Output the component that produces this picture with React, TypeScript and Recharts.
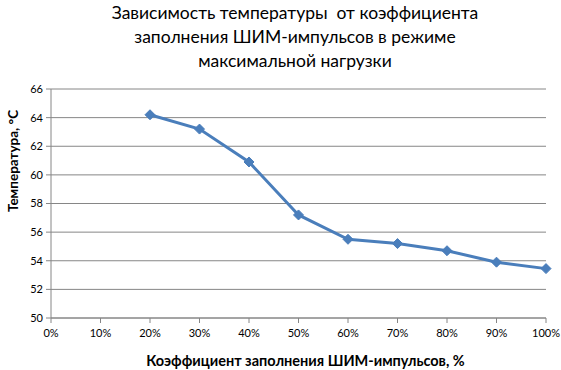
import { LineChart, Line, XAxis, YAxis, CartesianGrid } from "recharts";

const dutyCycle = [20, 30, 40, 50, 60, 70, 80, 90, 100];
const temperature = [64.2, 63.2, 60.9, 57.2, 55.5, 55.2, 54.7, 53.9, 53.45];
const xTicks = [0, 10, 20, 30, 40, 50, 60, 70, 80, 90, 100];
const yTicks = [50, 52, 54, 56, 58, 60, 62, 64, 66];

const data = dutyCycle.map((d, i) => ({ duty: d, temp: temperature[i] }));

const FONT = "Lato, 'Open Sans', sans-serif";
const BLUE = "#4a7ebb";

const Diamond = (props: any) => {
  const { cx, cy } = props;
  if (cx == null || cy == null) return null;
  const r = 5;
  return (
    <path
      d={`M${cx},${cy - r}L${cx + r},${cy}L${cx},${cy + r}L${cx - r},${cy}Z`}
      fill={BLUE}
      stroke={BLUE}
      strokeWidth={1}
    />
  );
};

export default function App() {
  return (
    <div style={{ position: "absolute", left: 0, top: 0, width: 561, height: 370, background: "#fff", fontFamily: FONT }}>
      <div
        style={{
          position: "absolute",
          left: 0,
          top: 1,
          width: 590,
          textAlign: "center",
          fontSize: 17.5,
          lineHeight: "24px",
          color: "#000",
        }}
      >
        Зависимость температуры&nbsp; от коэффициента
        <br />
        заполнения ШИМ-импульсов в режиме
        <br />
        максимальной нагрузки
      </div>
      <LineChart width={561} height={370} data={data} margin={{ top: 89, right: 15, bottom: 0, left: 0 }}>
        <CartesianGrid vertical={false} stroke="#868686" strokeWidth={1} />
        <XAxis
          dataKey="duty"
          type="number"
          domain={[0, 100]}
          ticks={xTicks}
          height={52}
          tickFormatter={(v: number) => `${v}%`}
          stroke="#868686"
          tickSize={5}
          tick={{ fontSize: 11, fill: "#000", fontFamily: FONT }}
          tickMargin={6}
          interval={0}
          label={{
            value: "Коэффициент заполнения ШИМ-импульсов, %",
            position: "insideBottom",
            offset: 4,
            dx: 7,
            style: { fontSize: 14.5, fontWeight: "bold", fill: "#000", fontFamily: FONT },
          }}
        />
        <YAxis
          domain={[50, 66]}
          ticks={yTicks}
          width={51}
          stroke="#868686"
          tickSize={5}
          tickMargin={3}
          interval={0}
          tick={{ fontSize: 11, fill: "#000", fontFamily: FONT }}
        />
        <Line
          dataKey="temp"
          stroke={BLUE}
          strokeWidth={3}
          dot={<Diamond />}
          activeDot={false}
          isAnimationActive={false}
        />
      </LineChart>
      <div
        style={{
          position: "absolute",
          left: 13,
          top: 161,
          transform: "translate(-50%, -50%) rotate(-90deg)",
          whiteSpace: "nowrap",
          fontSize: 13.5,
          fontWeight: "bold",
          color: "#000",
        }}
      >
        Температура, °С
      </div>
    </div>
  );
}
